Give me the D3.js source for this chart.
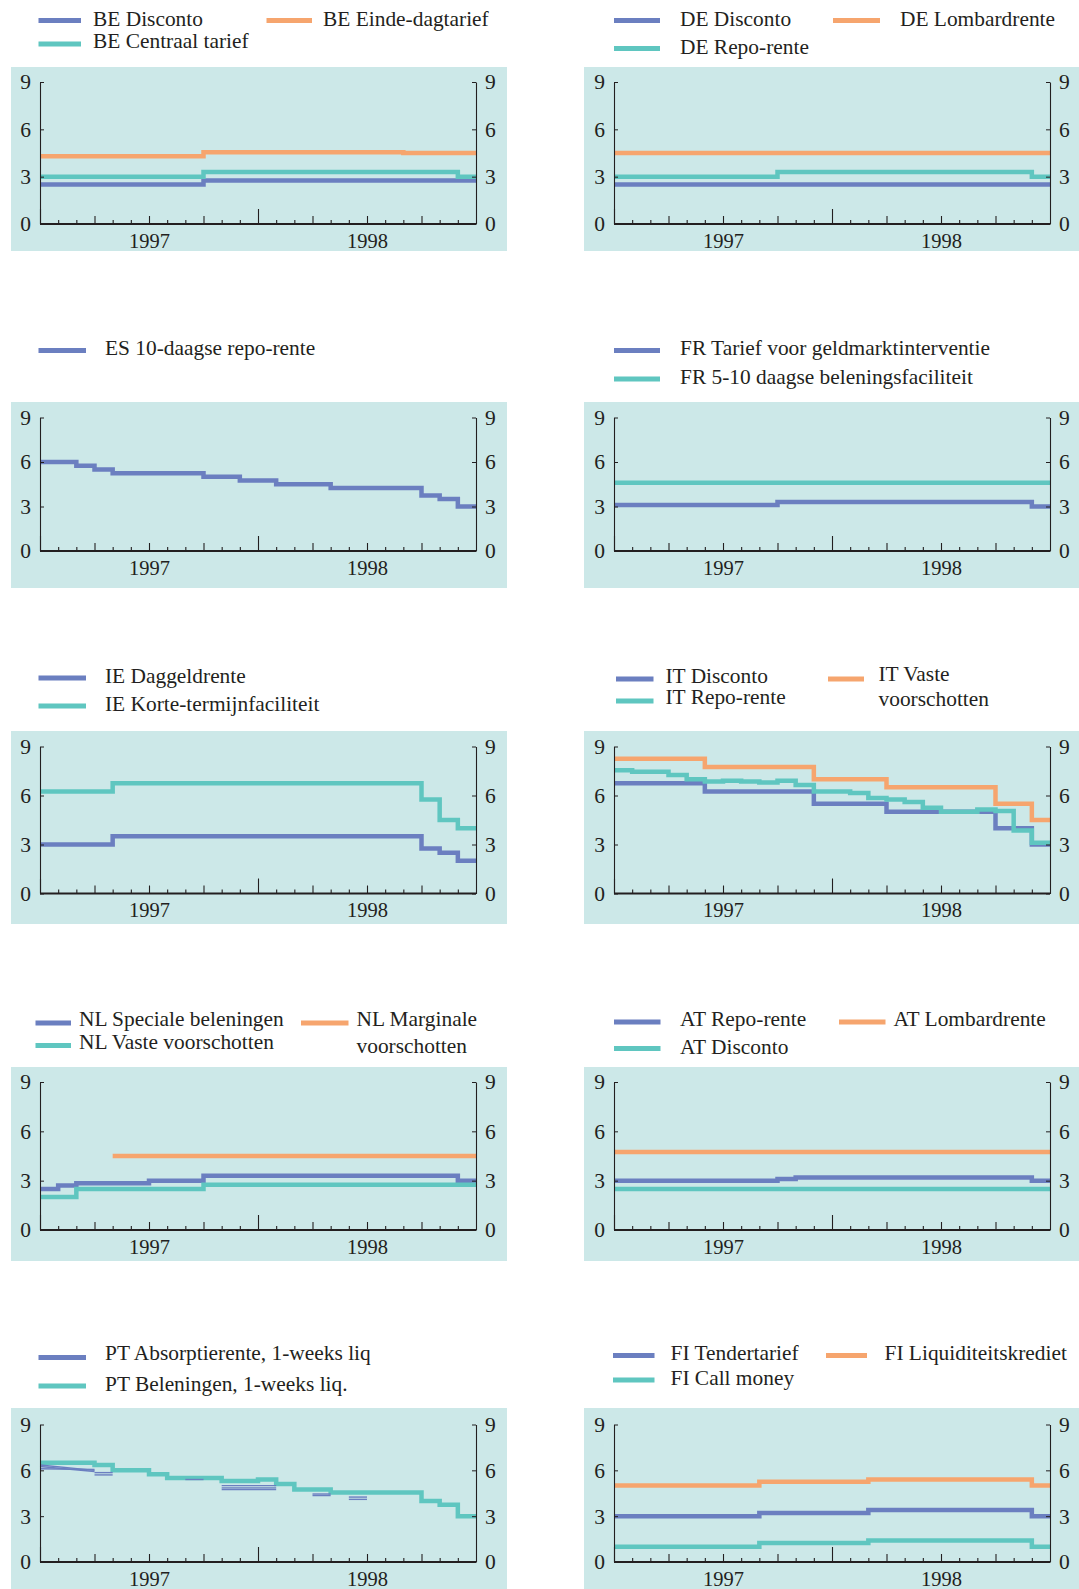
<!DOCTYPE html>
<html><head><meta charset="utf-8">
<script src="https://cdn.jsdelivr.net/npm/d3@7"></script>
<style>
body{margin:0;background:#fff}
svg{display:block}
text{font-family:"Liberation Serif","Times New Roman",serif;fill:#231f20}
</style>
</head><body>
<svg id="chart" width="1079" height="1589"></svg>
<script>
// ---------- DATA (monthly values, Jan 1997 .. Dec 1998) ----------
const MONTH_COUNT = 24;
const YEAR_LABELS = ["1997", "1998"];
const YEAR_LABEL_POS = [6, 18];
const Y_TICKS = [0, 3, 6, 9];

const BE_DISCONTO = [2.5,2.5,2.5,2.5,2.5,2.5,2.5,2.5,2.5,2.75,2.75,2.75,2.75,2.75,2.75,2.75,2.75,2.75,2.75,2.75,2.75,2.75,2.75,2.75];
const BE_EINDE    = [4.3,4.3,4.3,4.3,4.3,4.3,4.3,4.3,4.3,4.55,4.55,4.55,4.55,4.55,4.55,4.55,4.55,4.55,4.55,4.55,4.5,4.5,4.5,4.5];
const BE_CENTRAAL = [3.0,3.0,3.0,3.0,3.0,3.0,3.0,3.0,3.0,3.3,3.3,3.3,3.3,3.3,3.3,3.3,3.3,3.3,3.3,3.3,3.3,3.3,3.3,3.0];

const DE_DISCONTO = [2.5,2.5,2.5,2.5,2.5,2.5,2.5,2.5,2.5,2.5,2.5,2.5,2.5,2.5,2.5,2.5,2.5,2.5,2.5,2.5,2.5,2.5,2.5,2.5];
const DE_LOMBARD  = [4.5,4.5,4.5,4.5,4.5,4.5,4.5,4.5,4.5,4.5,4.5,4.5,4.5,4.5,4.5,4.5,4.5,4.5,4.5,4.5,4.5,4.5,4.5,4.5];
const DE_REPO     = [3.0,3.0,3.0,3.0,3.0,3.0,3.0,3.0,3.0,3.3,3.3,3.3,3.3,3.3,3.3,3.3,3.3,3.3,3.3,3.3,3.3,3.3,3.3,3.0];

const ES_REPO = [6.0,6.0,5.75,5.5,5.25,5.25,5.25,5.25,5.25,5.0,5.0,4.75,4.75,4.5,4.5,4.5,4.25,4.25,4.25,4.25,4.25,3.75,3.5,3.0];

const FR_TARIEF   = [3.1,3.1,3.1,3.1,3.1,3.1,3.1,3.1,3.1,3.3,3.3,3.3,3.3,3.3,3.3,3.3,3.3,3.3,3.3,3.3,3.3,3.3,3.3,3.0];
const FR_BELENING = [4.6,4.6,4.6,4.6,4.6,4.6,4.6,4.6,4.6,4.6,4.6,4.6,4.6,4.6,4.6,4.6,4.6,4.6,4.6,4.6,4.6,4.6,4.6,4.6];

const IE_DAGGELD = [3.0,3.0,3.0,3.0,3.5,3.5,3.5,3.5,3.5,3.5,3.5,3.5,3.5,3.5,3.5,3.5,3.5,3.5,3.5,3.5,3.5,2.75,2.5,2.0];
const IE_KORTE   = [6.25,6.25,6.25,6.25,6.75,6.75,6.75,6.75,6.75,6.75,6.75,6.75,6.75,6.75,6.75,6.75,6.75,6.75,6.75,6.75,6.75,5.75,4.5,4.0];

const IT_DISCONTO = [6.75,6.75,6.75,6.75,6.75,6.25,6.25,6.25,6.25,6.25,6.25,5.5,5.5,5.5,5.5,5.0,5.0,5.0,5.0,5.0,5.0,4.0,4.0,3.0];
const IT_VASTE    = [8.25,8.25,8.25,8.25,8.25,7.75,7.75,7.75,7.75,7.75,7.75,7.0,7.0,7.0,7.0,6.5,6.5,6.5,6.5,6.5,6.5,5.5,5.5,4.5];
const IT_REPO     = [7.55,7.45,7.45,7.25,7.0,6.85,6.9,6.85,6.8,6.9,6.65,6.25,6.25,6.15,5.85,5.75,5.6,5.25,5.0,5.0,5.15,5.05,3.85,3.1];

const NL_SPECIALE  = [2.5,2.7,2.85,2.85,2.85,2.85,3.0,3.0,3.0,3.3,3.3,3.3,3.3,3.3,3.3,3.3,3.3,3.3,3.3,3.3,3.3,3.3,3.3,3.0];
const NL_MARGINALE = [null,null,null,null,4.5,4.5,4.5,4.5,4.5,4.5,4.5,4.5,4.5,4.5,4.5,4.5,4.5,4.5,4.5,4.5,4.5,4.5,4.5,4.5];
const NL_VASTE     = [2.0,2.0,2.5,2.5,2.5,2.5,2.5,2.5,2.5,2.75,2.75,2.75,2.75,2.75,2.75,2.75,2.75,2.75,2.75,2.75,2.75,2.75,2.75,2.75];

const AT_REPO     = [3.0,3.0,3.0,3.0,3.0,3.0,3.0,3.0,3.0,3.1,3.2,3.2,3.2,3.2,3.2,3.2,3.2,3.2,3.2,3.2,3.2,3.2,3.2,3.0];
const AT_LOMBARD  = [4.75,4.75,4.75,4.75,4.75,4.75,4.75,4.75,4.75,4.75,4.75,4.75,4.75,4.75,4.75,4.75,4.75,4.75,4.75,4.75,4.75,4.75,4.75,4.75];
const AT_DISCONTO = [2.5,2.5,2.5,2.5,2.5,2.5,2.5,2.5,2.5,2.5,2.5,2.5,2.5,2.5,2.5,2.5,2.5,2.5,2.5,2.5,2.5,2.5,2.5,2.5];

const PT_BELENING = [6.5,6.5,6.5,6.35,6.0,6.0,5.75,5.5,5.5,5.5,5.3,5.3,5.4,5.1,4.75,4.75,4.55,4.55,4.55,4.55,4.55,4.0,3.75,3.0];
// PT absorption rate: scattered thin segments (month from, month to, value start, value end)
const PT_ABS_FROM  = [0,   0,    0,    3,    3,   8,   10,  10,   10,   15,   15,   17,   17];
const PT_ABS_TO    = [3,   3,    3,    4,    4,   9,   13,  13,   13,   16,   16,   18,   18];
const PT_ABS_START = [6.35,6.25, 6.1,  5.85, 5.7, 5.4, 5.0, 4.85, 4.75, 4.45, 4.35, 4.25, 4.1];
const PT_ABS_END   = [6.0, 5.92, 6.05, 5.85, 5.7, 5.4, 5.0, 4.85, 4.75, 4.45, 4.35, 4.25, 4.1];

const FI_TENDER = [3.0,3.0,3.0,3.0,3.0,3.0,3.0,3.0,3.2,3.2,3.2,3.2,3.2,3.2,3.4,3.4,3.4,3.4,3.4,3.4,3.4,3.4,3.4,3.0];
const FI_LIQ    = [5.0,5.0,5.0,5.0,5.0,5.0,5.0,5.0,5.25,5.25,5.25,5.25,5.25,5.25,5.4,5.4,5.4,5.4,5.4,5.4,5.4,5.4,5.4,5.0];
const FI_CALL   = [1.0,1.0,1.0,1.0,1.0,1.0,1.0,1.0,1.25,1.25,1.25,1.25,1.25,1.25,1.4,1.4,1.4,1.4,1.4,1.4,1.4,1.4,1.4,1.0];

// ---------- STYLE ----------
const BLUE = "#6b7fc0", TEAL = "#5fc6c0", ORANGE = "#f6a56e", BG = "#cce8e8", INK = "#231f20";

// ---------- LAYOUT ----------
const COLS = [
  {bgL: 11, bgR: 507, x0: 40, x1: 476},
  {bgL: 584, bgR: 1079, x0: 614, x1: 1050}
];
const ROWS = [
  {bgT: 67,   bgB: 251,  yTop: 82,    yBot: 224},
  {bgT: 402,  bgB: 588,  yTop: 417.5, yBot: 551},
  {bgT: 731,  bgB: 924,  yTop: 746.5, yBot: 893.5},
  {bgT: 1067, bgB: 1261, yTop: 1082,  yBot: 1230},
  {bgT: 1408, bgB: 1589, yTop: 1424.5,yBot: 1562}
];

// legend entry layout: [swatchX0, swatchX1, swatchY, textX, textY, lineGap(em)]
const PANELS = [
  {row:0, col:0, series:[
    {v:BE_DISCONTO, c:BLUE,   name:["BE Disconto"],        lg:[38.5,81,20.5,93,18.5]},
    {v:BE_CENTRAAL, c:TEAL,   name:["BE Centraal tarief"], lg:[38.5,81,44,93,40.5]},
    {v:BE_EINDE,    c:ORANGE, name:["BE Einde-dagtarief"], lg:[266.5,312,20.5,323,18.5]}]},
  {row:0, col:1, series:[
    {v:DE_DISCONTO, c:BLUE,   name:["DE Disconto"],    lg:[614,660,20.5,680,19]},
    {v:DE_REPO,     c:TEAL,   name:["DE Repo-rente"],  lg:[614,660,48.5,680,47]},
    {v:DE_LOMBARD,  c:ORANGE, name:["DE Lombardrente"],lg:[833,880,20.5,900,19]}]},
  {row:1, col:0, series:[
    {v:ES_REPO, c:BLUE, name:["ES 10-daagse repo-rente"], lg:[38.5,86,350.5,105,347.5]}]},
  {row:1, col:1, series:[
    {v:FR_TARIEF,   c:BLUE, name:["FR Tarief voor geldmarktinterventie"], lg:[614,660,350.5,680,347.5]},
    {v:FR_BELENING, c:TEAL, name:["FR 5-10 daagse beleningsfaciliteit"], lg:[614,660,379,680,377]}]},
  {row:2, col:0, series:[
    {v:IE_DAGGELD, c:BLUE, name:["IE Daggeldrente"],           lg:[38.5,86,678,105,676]},
    {v:IE_KORTE,   c:TEAL, name:["IE Korte-termijnfaciliteit"],lg:[38.5,86,706,105,704]}]},
  {row:2, col:1, series:[
    {v:IT_DISCONTO, c:BLUE,   name:["IT Disconto"],             lg:[616,653.5,679,665.5,676]},
    {v:IT_REPO,     c:TEAL,   name:["IT Repo-rente"],           lg:[616,653.5,701,665.5,697]},
    {v:IT_VASTE,    c:ORANGE, name:["IT Vaste","voorschotten"], lg:[828,864,679,878.5,673.5,1.15]}]},
  {row:3, col:0, series:[
    {v:NL_SPECIALE,  c:BLUE,   name:["NL Speciale beleningen"],       lg:[35.5,71,1023,79,1019]},
    {v:NL_VASTE,     c:TEAL,   name:["NL Vaste voorschotten"],        lg:[35.5,71,1045.5,79,1041.5]},
    {v:NL_MARGINALE, c:ORANGE, name:["NL Marginale","voorschotten"],  lg:[301,348.5,1023,356.5,1019,1.22]}]},
  {row:3, col:1, series:[
    {v:AT_REPO,     c:BLUE,   name:["AT Repo-rente"],   lg:[614,660.5,1022,680,1019]},
    {v:AT_DISCONTO, c:TEAL,   name:["AT Disconto"],     lg:[614,660.5,1048.5,680,1046.5]},
    {v:AT_LOMBARD,  c:ORANGE, name:["AT Lombardrente"], lg:[839,885.5,1022,893.5,1019]}]},
  {row:4, col:0, segments:true, series:[
    {v:PT_BELENING, c:TEAL, name:["PT Beleningen, 1-weeks liq."],  lg:[38.5,86,1386,105,1384]},
    {v:null,        c:BLUE, name:["PT Absorptierente, 1-weeks liq"], lg:[38.5,86,1357.5,105,1352.5]}]},
  {row:4, col:1, series:[
    {v:FI_TENDER, c:BLUE,   name:["FI Tendertarief"],          lg:[613,654.5,1355.5,670.5,1352.5]},
    {v:FI_CALL,   c:TEAL,   name:["FI Call money"],            lg:[613,654.5,1380,670.5,1378]},
    {v:FI_LIQ,    c:ORANGE, name:["FI Liquiditeitskrediet"],   lg:[826,867,1355.5,884.5,1352.5]}]}
];

const svg = d3.select("#chart");
const LINE_W = 4.5;

PANELS.forEach(p => {
  const C = COLS[p.col], R = ROWS[p.row];
  const g = svg.append("g");
  g.append("rect").attr("x", C.bgL).attr("y", R.bgT)
    .attr("width", C.bgR - C.bgL).attr("height", R.bgB - R.bgT).attr("fill", BG);

  const x = d3.scaleLinear().domain([0, MONTH_COUNT]).range([C.x0, C.x1]);
  const y = d3.scaleLinear().domain([0, 9]).range([R.yBot, R.yTop]);

  // series
  const line = d3.line()
    .defined(d => d[1] !== null)
    .x(d => x(d[0])).y(d => y(d[1]))
    .curve(d3.curveStepAfter);
  p.series.forEach(s => {
    if (!s.v) return;
    const pts = s.v.map((v, i) => [i, v]);
    pts.push([MONTH_COUNT, s.v[s.v.length - 1]]);
    g.append("path").datum(pts).attr("d", line)
      .attr("fill", "none").attr("stroke", s.c)
      .attr("stroke-width", LINE_W).attr("stroke-linejoin", "miter").attr("stroke-linecap", "butt");
  });
  if (p.segments) {
    const segs = PT_ABS_FROM.map((f, i) => [[f, PT_ABS_START[i]], [PT_ABS_TO[i], PT_ABS_END[i]]]);
    const sl = d3.line().x(d => x(d[0])).y(d => y(d[1]));
    g.selectAll("path.seg").data(segs).join("path").attr("class", "seg")
      .attr("d", sl).attr("fill", "none").attr("stroke", BLUE).attr("stroke-width", 1.4);
  }

  // y axes
  const yl = g.append("g").attr("transform", `translate(${C.x0},0)`)
    .call(d3.axisLeft(y).tickValues(Y_TICKS).tickSize(-4).tickSizeOuter(0).tickPadding(9));
  const yr = g.append("g").attr("transform", `translate(${C.x1},0)`)
    .call(d3.axisRight(y).tickValues(Y_TICKS).tickSize(-4).tickSizeOuter(0).tickPadding(9));
  [yl, yr].forEach(a => {
    a.select(".domain").attr("stroke", INK).attr("stroke-width", 1.1);
    a.selectAll(".tick line").attr("stroke", INK).attr("stroke-width", 1);
    a.selectAll(".tick text").attr("font-size", 21.5).attr("fill", INK)
      .style("font-family", '"Liberation Serif", serif');
  });

  // x axis: month, quarter and year ticks
  const months = d3.range(0, MONTH_COUNT + 1);
  const tickSets = [
    {vals: months.filter(m => m % 3 !== 0), size: 4},
    {vals: months.filter(m => m % 3 === 0 && m % 12 !== 0), size: 8},
    {vals: months.filter(m => m % 12 === 0 && m < MONTH_COUNT), size: 15}
  ];
  tickSets.forEach(ts => {
    const a = g.append("g").attr("transform", `translate(0,${R.yBot})`)
      .call(d3.axisBottom(x).tickValues(ts.vals).tickSize(-ts.size).tickSizeOuter(0).tickFormat(""));
    a.select(".domain").remove();
    a.selectAll(".tick line").attr("stroke", INK).attr("stroke-width", 1.1);
  });
  g.append("line").attr("x1", C.x0).attr("x2", C.x1).attr("y1", R.yBot).attr("y2", R.yBot)
    .attr("stroke", INK).attr("stroke-width", 2);
  const yearAxis = g.append("g").attr("transform", `translate(0,${R.yBot})`)
    .call(d3.axisBottom(x).tickValues(YEAR_LABEL_POS).tickSize(0).tickPadding(9)
      .tickFormat((d, i) => YEAR_LABELS[i]));
  yearAxis.select(".domain").remove();
  yearAxis.selectAll(".tick text").attr("font-size", 20.5).attr("fill", INK)
    .style("font-family", '"Liberation Serif", serif');

  // legend
  p.series.forEach(s => {
    const [sx0, sx1, sy, tx, ty, gap] = s.lg;
    g.append("line").attr("x1", sx0).attr("x2", sx1).attr("y1", sy).attr("y2", sy)
      .attr("stroke", s.c).attr("stroke-width", 5);
    const t = g.append("text").attr("x", tx).attr("y", ty).attr("font-size", 21.4);
    s.name.forEach((n, i) => {
      t.append("tspan").attr("x", tx).attr("dy", i === 0 ? "0.35em" : `${gap || 1.2}em`).text(n);
    });
  });
});
</script>
</body></html>
